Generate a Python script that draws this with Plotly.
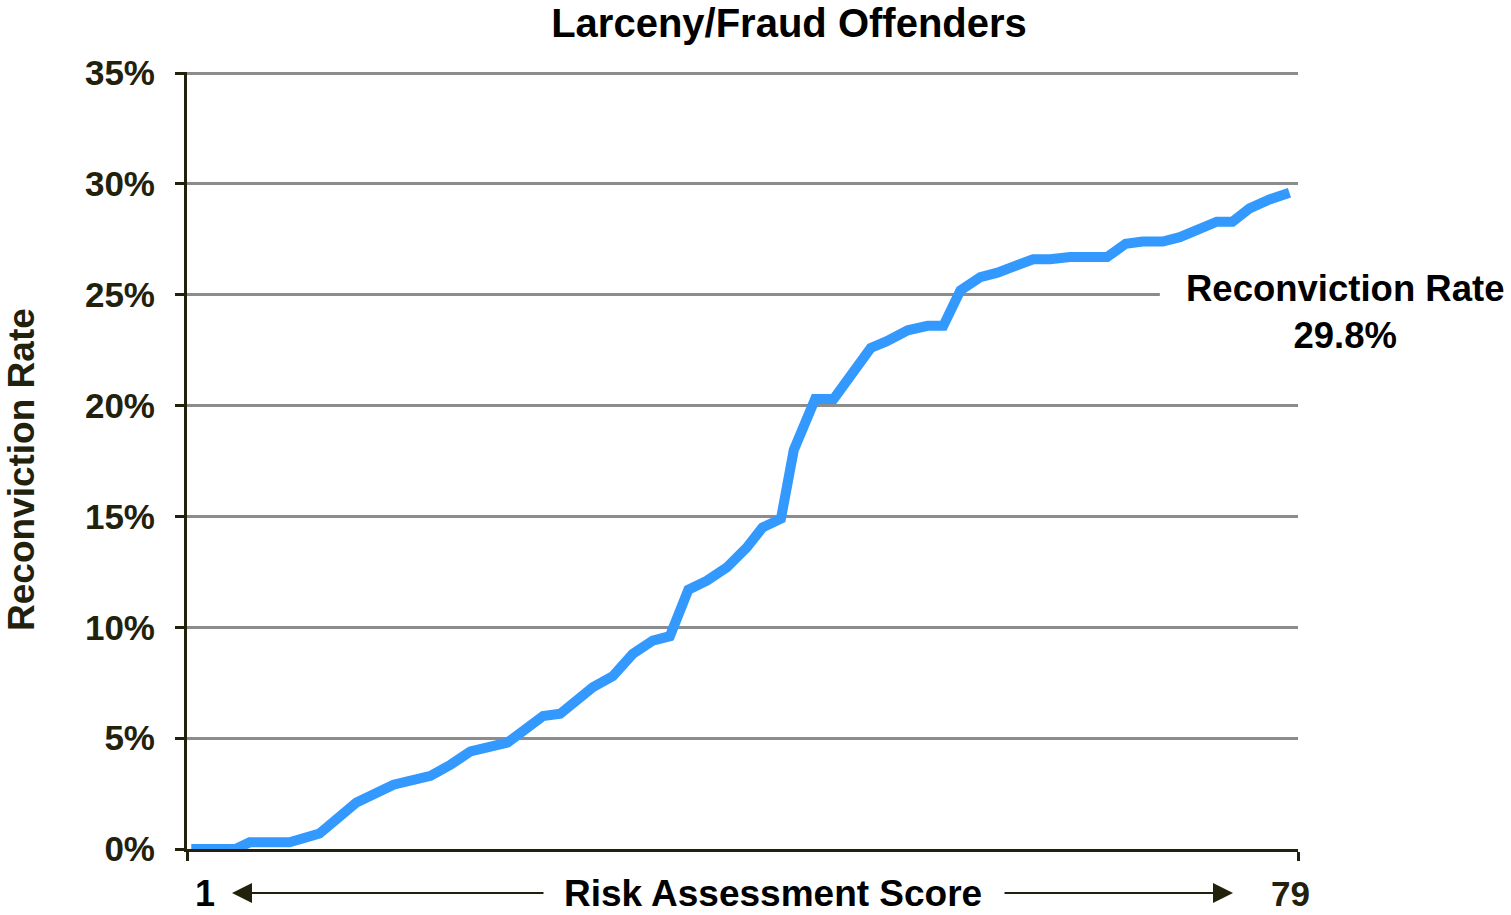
import plotly.graph_objects as go

# risk score (x) vs reconviction rate in % (y)
scores = [1.3, 4.4, 5.4, 8.2, 10.3, 12.9, 15.5, 16.9, 18.1, 19.5, 20.9, 23.5, 26.0,
          27.2, 28.6, 29.5, 30.9, 32.3, 33.7, 34.9, 36.2, 37.5, 38.9, 40.3, 41.4,
          42.7, 43.6, 45.1, 46.4, 47.6, 49.0, 50.1, 51.6, 53.0, 54.1, 55.3, 56.7,
          57.9, 59.3, 60.4, 61.6, 63.0, 65.6, 66.9, 68.1, 69.5, 70.7, 71.9, 73.3,
          74.4, 75.6, 77.0, 78.4]
rates = [0.0, 0.0, 0.3, 0.3, 0.7, 2.1, 2.9, 3.1, 3.3, 3.8, 4.4, 4.8, 6.0,
         6.1, 6.9, 7.3, 7.8, 8.8, 9.4, 9.6, 11.7, 12.1, 12.7, 13.6, 14.5,
         14.9, 18.0, 20.3, 20.3, 21.3, 22.6, 22.9, 23.4, 23.6, 23.6, 25.2, 25.8,
         26.0, 26.4, 26.6, 26.6, 26.7, 26.7, 27.3, 27.4, 27.4, 27.6, 27.9, 28.3,
         28.3, 28.9, 29.3, 29.6]
y_ticks = [0, 5, 10, 15, 20, 25, 30, 35]
y_labels = [f"{v}%" for v in y_ticks]
x_ends = [1, 79]
final_rate = "29.8%"

DARK = "#22210c"
FONT = "Liberation Sans, Arial, sans-serif"
W, H = 1511, 915

fig = go.Figure()
fig.add_scatter(x=scores, y=rates, mode="lines",
                line=dict(color="#3399ff", width=10), hoverinfo="skip")

fig.update_layout(
    width=W, height=H,
    margin=dict(l=187, r=W - 1298, t=72, b=H - 849),
    paper_bgcolor="white", plot_bgcolor="white",
    showlegend=False,
    title=dict(text="<b>Larceny/Fraud Offenders</b>", x=789 / W, xanchor="center",
               y=1 - 23 / H, yanchor="middle",
               font=dict(family=FONT, size=40, color="black")),
)

fig.update_yaxes(range=[0, 35.05], tickmode="array", tickvals=y_ticks, ticktext=y_labels,
                 showgrid=True, gridcolor="#8c8c8c", gridwidth=2.5,
                 showline=True, linecolor=DARK, linewidth=3,
                 ticks="outside", ticklen=9, tickwidth=3, tickcolor=DARK,
                 ticklabelstandoff=13,
                 tickfont=dict(family=FONT, size=35, color=DARK, weight="bold"),
                 zeroline=False)
fig.update_xaxes(range=[1, 79], tickvals=x_ends, showticklabels=False,
                 showgrid=False, zeroline=False,
                 showline=True, linecolor=DARK, linewidth=3,
                 ticks="outside", ticklen=9, tickwidth=3, tickcolor=DARK)

# gap in the 25% gridline behind the end label
fig.add_shape(type="rect", xref="x", yref="y", x0=69.3, x1=79.5, y0=24.3, y1=25.7,
              fillcolor="white", line_width=0, layer="between")

fig.add_annotation(text=f"<b>Reconviction Rate<br>{final_rate}</b>",
                   xref="paper", yref="paper", x=(1345 - 187) / 1111, y=(849 - 312) / 777,
                   xanchor="center", yanchor="middle", showarrow=False,
                   font=dict(family=FONT, size=36.5, color="black"))

fig.add_annotation(text="<b>Reconviction Rate</b>", textangle=-90,
                   xref="paper", yref="paper", x=(22 - 187) / 1111, y=(849 - 470) / 777,
                   xanchor="center", yanchor="middle", showarrow=False,
                   font=dict(family=FONT, size=37, color=DARK))

# x axis title with arrows and end labels
ax_y = (849 - 893) / 777
fig.add_annotation(text="<b>Risk Assessment Score</b>", xref="paper", yref="paper",
                   x=(773 - 187) / 1111, y=(849 - 893) / 777, xanchor="center",
                   yanchor="middle", showarrow=False,
                   font=dict(family=FONT, size=37, color="black"))
fig.add_annotation(text="", xref="paper", yref="paper", x=(232 - 187) / 1111, y=ax_y,
                   ax=313, ay=0, showarrow=True, arrowhead=2, arrowsize=2,
                   arrowwidth=2, arrowcolor=DARK)
fig.add_annotation(text="", xref="paper", yref="paper", x=(1233 - 187) / 1111, y=ax_y,
                   ax=-230, ay=0, showarrow=True, arrowhead=2, arrowsize=2,
                   arrowwidth=2, arrowcolor=DARK)
fig.add_annotation(text=f"<b>{x_ends[0]}</b>", xref="paper", yref="paper",
                   x=(205 - 187) / 1111, y=ax_y, xanchor="center", yanchor="middle",
                   showarrow=False, font=dict(family=FONT, size=36, color="black"))
fig.add_annotation(text=f"<b>{x_ends[1]}</b>", xref="paper", yref="paper",
                   x=(1290 - 187) / 1111, y=ax_y, xanchor="center", yanchor="middle",
                   showarrow=False, font=dict(family=FONT, size=35, color=DARK))

# drop the default page margin so the figure fills the window exactly
fig.write_html("out.html", config={"displayModeBar": False},
               post_script="document.body.style.margin='0';document.body.style.overflow='hidden';")
